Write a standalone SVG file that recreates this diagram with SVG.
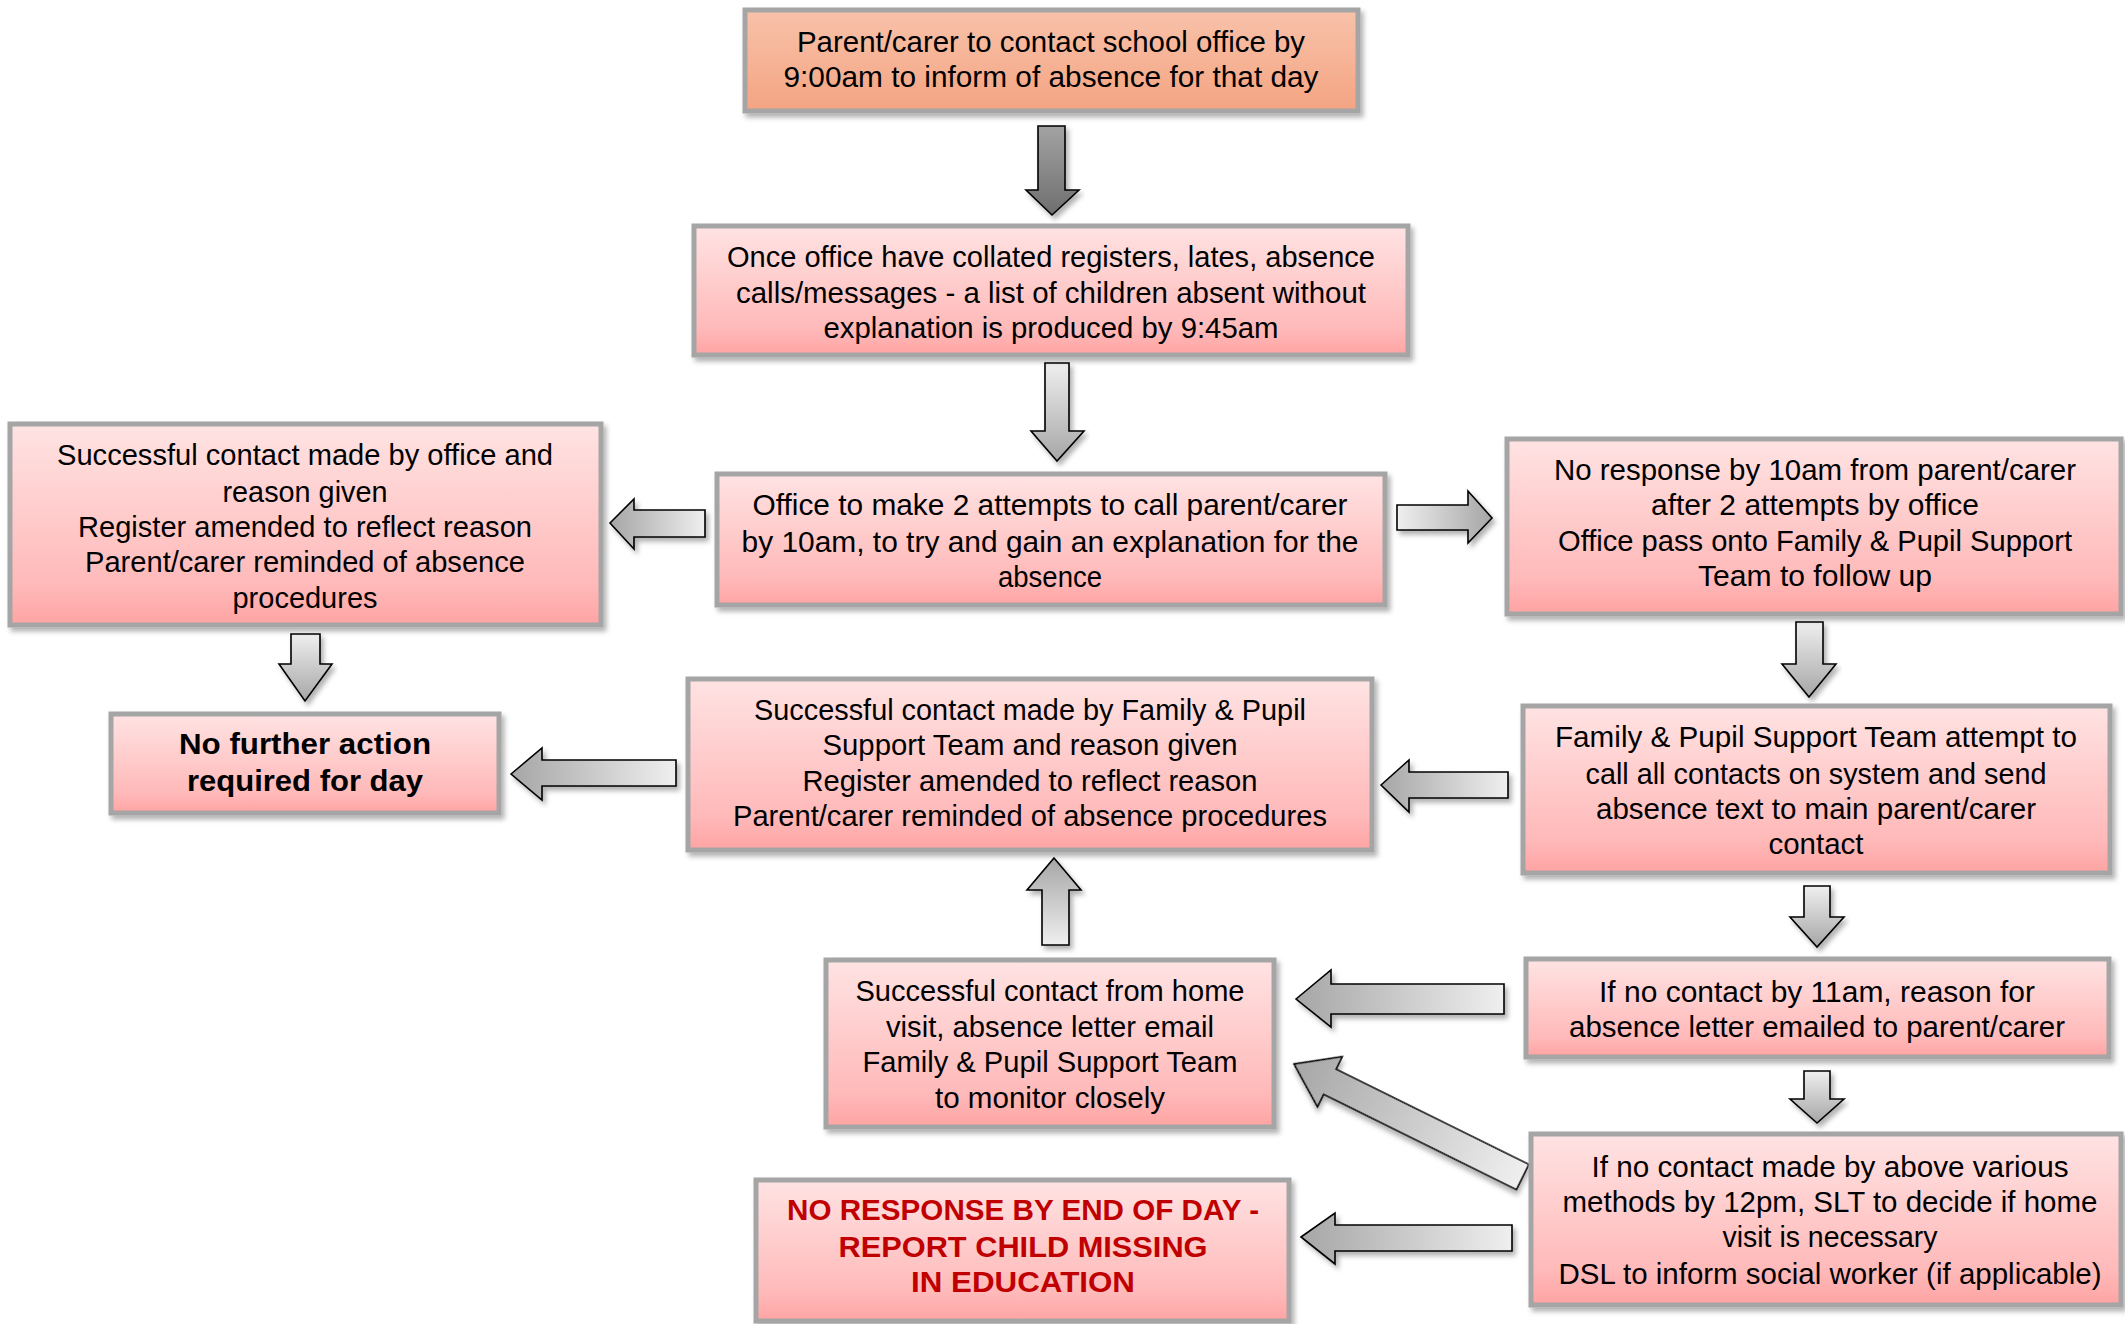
<svg xmlns="http://www.w3.org/2000/svg" width="2125" height="1324" viewBox="0 0 2125 1324">
<defs>
<linearGradient id="gPink" x1="0" y1="0" x2="0" y2="1"><stop offset="0" stop-color="#FFE3E3"/><stop offset="0.8" stop-color="#FFB9B9"/><stop offset="1" stop-color="#FFA3A3"/></linearGradient>
<linearGradient id="gOrange" x1="0" y1="0" x2="0" y2="1"><stop offset="0" stop-color="#F8C2AA"/><stop offset="1" stop-color="#F4A482"/></linearGradient>
<linearGradient id="gLeft" x1="0" y1="0" x2="1" y2="0"><stop offset="0" stop-color="#A6A6A6"/><stop offset="1" stop-color="#EFEFEF"/></linearGradient>
<linearGradient id="gRight" x1="1" y1="0" x2="0" y2="0"><stop offset="0" stop-color="#A6A6A6"/><stop offset="1" stop-color="#EFEFEF"/></linearGradient>
<linearGradient id="gDown" x1="0" y1="0" x2="0" y2="1"><stop offset="0" stop-color="#EFEFEF"/><stop offset="1" stop-color="#A6A6A6"/></linearGradient>
<linearGradient id="gUp" x1="0" y1="1" x2="0" y2="0"><stop offset="0" stop-color="#EFEFEF"/><stop offset="1" stop-color="#A6A6A6"/></linearGradient>
<linearGradient id="gDark" x1="0" y1="0" x2="0" y2="1"><stop offset="0" stop-color="#A3A3A3"/><stop offset="1" stop-color="#6E6E6E"/></linearGradient>
<filter id="sh" x="-10%" y="-10%" width="120%" height="130%"><feDropShadow dx="3" dy="4" stdDeviation="2.5" flood-color="#000" flood-opacity="0.3"/></filter>
</defs>
<style>
.box{fill:url(#gPink);stroke:#A5A5A5;stroke-width:5;filter:url(#sh)}
.box.o{fill:url(#gOrange)}
.t{font-family:"Liberation Sans",Arial,sans-serif;font-size:29px;fill:#000;text-anchor:middle}
.b{font-weight:bold}
.r{fill:#C00000}
.ar{stroke:#000;stroke-width:1.6;stroke-linejoin:miter;filter:url(#sh)}
</style>
<rect width="2125" height="1324" fill="#fff"/>

<g id="connectors">
<polygon class="ar" fill="url(#gDark)" points="1038,126 1065,126 1065,190 1079,190 1052,215 1026,190 1038,190"/>
<polygon class="ar" fill="url(#gDown)" points="1045,363 1069,363 1069,431 1084,431 1057,461 1031,431 1045,431"/>
<polygon class="ar" fill="url(#gLeft)" points="610,523 634,499 634,510 705,510 705,537 634,537 634,549"/>
<polygon class="ar" fill="url(#gRight)" points="1397,505 1468,505 1468,491 1492,518 1468,543 1468,530 1397,530"/>
<polygon class="ar" fill="url(#gDown)" points="291,634 320,634 320,664 332,664 305,701 279,664 291,664"/>
<polygon class="ar" fill="url(#gDown)" points="1796,622 1823,622 1823,664 1836,664 1809,697 1782,664 1796,664"/>
<polygon class="ar" fill="url(#gLeft)" points="511,774 542,748 542,760 676,760 676,786 542,786 542,800"/>
<polygon class="ar" fill="url(#gLeft)" points="1381,785 1409,760 1409,772 1508,772 1508,798 1409,798 1409,812"/>
<polygon class="ar" fill="url(#gUp)" points="1054,858 1081,890 1069,890 1069,945 1042,945 1042,890 1027,890"/>
<polygon class="ar" fill="url(#gDown)" points="1804,886 1830,886 1830,917 1844,917 1817,947 1790,917 1804,917"/>
<polygon class="ar" fill="url(#gLeft)" points="1296,999 1331,970 1331,984 1504,984 1504,1014 1331,1014 1331,1027"/>
<polygon class="ar" fill="url(#gDown)" points="1804,1071 1830,1071 1830,1099 1844,1099 1817,1123 1790,1099 1804,1099"/>
<polygon class="ar" fill="url(#gLeft)" transform="translate(1294,1064) rotate(26.3)" points="0,0 40,-28 40,-14 255,-14 255,14 40,14 40,28"/>
<polygon class="ar" fill="url(#gLeft)" points="1301,1237 1335,1213 1335,1225 1512,1225 1512,1251 1335,1251 1335,1264"/>
</g>

<g id="n1">
<rect class="box o" x="745" y="10" width="613" height="101"/>
<text class="t" x="1051" y="52" textLength="508" lengthAdjust="spacingAndGlyphs">Parent/carer to contact school office by</text>
<text class="t" x="1051" y="87" textLength="535" lengthAdjust="spacingAndGlyphs">9:00am to inform of absence for that day</text>
</g>

<g id="n2">
<rect class="box" x="694" y="226" width="714" height="129"/>
<text class="t" x="1051" y="267" textLength="648" lengthAdjust="spacingAndGlyphs">Once office have collated registers, lates, absence</text>
<text class="t" x="1051" y="303" textLength="630" lengthAdjust="spacingAndGlyphs">calls/messages - a list of children absent without</text>
<text class="t" x="1051" y="338" textLength="455" lengthAdjust="spacingAndGlyphs">explanation is produced by 9:45am</text>
</g>

<g id="n3">
<rect class="box" x="717" y="474" width="668" height="131"/>
<text class="t" x="1050" y="515" textLength="595" lengthAdjust="spacingAndGlyphs">Office to make 2 attempts to call parent/carer</text>
<text class="t" x="1050" y="552" textLength="617" lengthAdjust="spacingAndGlyphs">by 10am, to try and gain an explanation for the</text>
<text class="t" x="1050" y="587" textLength="104" lengthAdjust="spacingAndGlyphs">absence</text>
</g>

<g id="n4">
<rect class="box" x="10" y="424" width="591" height="201"/>
<text class="t" x="305" y="465" textLength="496" lengthAdjust="spacingAndGlyphs">Successful contact made by office and</text>
<text class="t" x="305" y="502" textLength="165" lengthAdjust="spacingAndGlyphs">reason given</text>
<text class="t" x="305" y="537" textLength="454" lengthAdjust="spacingAndGlyphs">Register amended to reflect reason</text>
<text class="t" x="305" y="572" textLength="440" lengthAdjust="spacingAndGlyphs">Parent/carer reminded of absence</text>
<text class="t" x="305" y="608" textLength="145" lengthAdjust="spacingAndGlyphs">procedures</text>
</g>

<g id="n5">
<rect class="box" x="1507" y="439" width="614" height="175"/>
<text class="t" x="1815" y="480" textLength="522" lengthAdjust="spacingAndGlyphs">No response by 10am from parent/carer</text>
<text class="t" x="1815" y="515" textLength="328" lengthAdjust="spacingAndGlyphs">after 2 attempts by office</text>
<text class="t" x="1815" y="551" textLength="514" lengthAdjust="spacingAndGlyphs">Office pass onto Family &amp; Pupil Support</text>
<text class="t" x="1815" y="586" textLength="234" lengthAdjust="spacingAndGlyphs">Team to follow up</text>
</g>

<g id="n6">
<rect class="box" x="111" y="714" width="388" height="99"/>
<text class="t b" x="305" y="754" textLength="252" lengthAdjust="spacingAndGlyphs">No further action</text>
<text class="t b" x="305" y="791" textLength="236" lengthAdjust="spacingAndGlyphs">required for day</text>
</g>

<g id="n7">
<rect class="box" x="688" y="679" width="684" height="171"/>
<text class="t" x="1030" y="720" textLength="552" lengthAdjust="spacingAndGlyphs">Successful contact made by Family &amp; Pupil</text>
<text class="t" x="1030" y="755" textLength="415" lengthAdjust="spacingAndGlyphs">Support Team and reason given</text>
<text class="t" x="1030" y="791" textLength="455" lengthAdjust="spacingAndGlyphs">Register amended to reflect reason</text>
<text class="t" x="1030" y="826" textLength="594" lengthAdjust="spacingAndGlyphs">Parent/carer reminded of absence procedures</text>
</g>

<g id="n8">
<rect class="box" x="1523" y="706" width="587" height="167"/>
<text class="t" x="1816" y="747" textLength="522" lengthAdjust="spacingAndGlyphs">Family &amp; Pupil Support Team attempt to</text>
<text class="t" x="1816" y="784" textLength="461" lengthAdjust="spacingAndGlyphs">call all contacts on system and send</text>
<text class="t" x="1816" y="819" textLength="440" lengthAdjust="spacingAndGlyphs">absence text to main parent/carer</text>
<text class="t" x="1816" y="854" textLength="95" lengthAdjust="spacingAndGlyphs">contact</text>
</g>

<g id="n9">
<rect class="box" x="1526" y="959" width="583" height="98"/>
<text class="t" x="1817" y="1002" textLength="436" lengthAdjust="spacingAndGlyphs">If no contact by 11am, reason for</text>
<text class="t" x="1817" y="1037" textLength="496" lengthAdjust="spacingAndGlyphs">absence letter emailed to parent/carer</text>
</g>

<g id="n10">
<rect class="box" x="826" y="960" width="448" height="167"/>
<text class="t" x="1050" y="1001" textLength="389" lengthAdjust="spacingAndGlyphs">Successful contact from home</text>
<text class="t" x="1050" y="1037" textLength="328" lengthAdjust="spacingAndGlyphs">visit, absence letter email</text>
<text class="t" x="1050" y="1072" textLength="375" lengthAdjust="spacingAndGlyphs">Family &amp; Pupil Support Team</text>
<text class="t" x="1050" y="1108" textLength="230" lengthAdjust="spacingAndGlyphs">to monitor closely</text>
</g>

<g id="n11">
<rect class="box" x="1531" y="1134" width="590" height="171"/>
<text class="t" x="1830" y="1177" textLength="477" lengthAdjust="spacingAndGlyphs">If no contact made by above various</text>
<text class="t" x="1830" y="1212" textLength="535" lengthAdjust="spacingAndGlyphs">methods by 12pm, SLT to decide if home</text>
<text class="t" x="1830" y="1247" textLength="215" lengthAdjust="spacingAndGlyphs">visit is necessary</text>
<text class="t" x="1830" y="1284" textLength="543" lengthAdjust="spacingAndGlyphs">DSL to inform social worker (if applicable)</text>
</g>

<g id="n12">
<rect class="box" x="756" y="1180" width="533" height="141"/>
<text class="t b r" x="1023" y="1220" textLength="472" lengthAdjust="spacingAndGlyphs">NO RESPONSE BY END OF DAY -</text>
<text class="t b r" x="1023" y="1257" textLength="369" lengthAdjust="spacingAndGlyphs">REPORT CHILD MISSING</text>
<text class="t b r" x="1023" y="1292" textLength="224" lengthAdjust="spacingAndGlyphs">IN EDUCATION</text>
</g>
</svg>
